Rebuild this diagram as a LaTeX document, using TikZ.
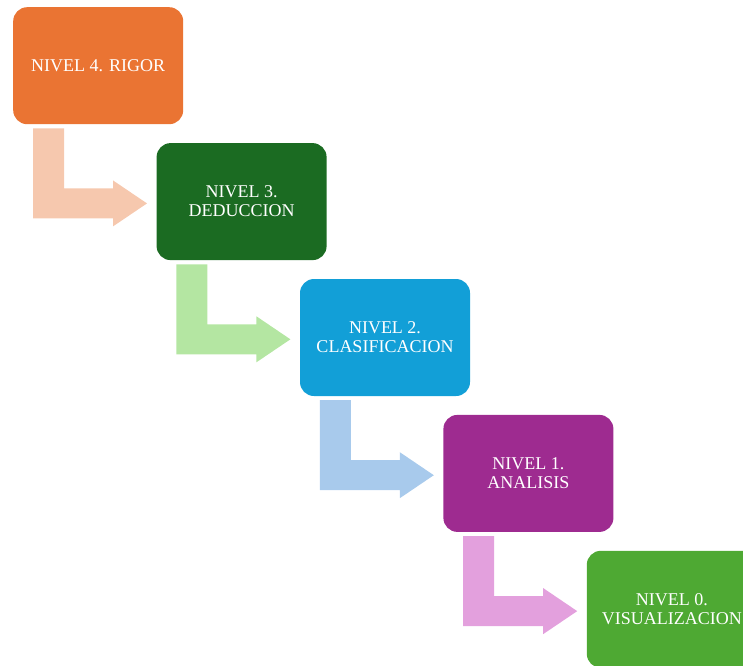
\documentclass[tikz,border=0pt]{standalone}
\usepackage{fontspec}
\setmainfont{Liberation Serif}
\usepackage{tikz}
\usetikzlibrary{positioning}

\definecolor{rigorC}{HTML}{EA7433}
\definecolor{deducC}{HTML}{1B6B22}
\definecolor{clasifC}{HTML}{129FD7}
\definecolor{analisC}{HTML}{9E2B90}
\definecolor{visualC}{HTML}{4EA933}
\definecolor{rigorL}{HTML}{F6C8AE}
\definecolor{deducL}{HTML}{B4E6A2}
\definecolor{clasifL}{HTML}{A8CAEC}
\definecolor{analisL}{HTML}{E3A0DD}

\begin{document}
\begin{tikzpicture}[
    x=1pt, y=1pt,
    node distance=18.5pt and -27pt,
    box/.style={rectangle,rounded corners=14pt,align=center,text=white,minimum width=170pt,minimum height=117pt,inner sep=0pt,font=\fontsize{18}{19}\selectfont},
    bent/.style={draw=none}
]
\clip (0,0) rectangle (743,-665);

\node[box, fill=rigorC, anchor=north west] (rigor) at (13,-7) {NIVEL 4. RIGOR};
\node[box, fill=deducC, below right=of rigor] (deduccion) {NIVEL 3.\\DEDUCCION};
\node[box, fill=clasifC, below right=of deduccion] (clasificacion) {NIVEL 2.\\CLASIFICACION};
\node[box, fill=analisC, below right=of clasificacion] (analisis) {NIVEL 1.\\ANALISIS};
\node[box, fill=visualC, below right=of analisis] (visualizacion) {NIVEL 0.\\VISUALIZACION};

% bent arrows between the levels
\fill[bent, rigorL] ([shift={(20,-4)}]rigor.south west) -- ++(31,0) -- ++(0,-60) -- ++(49,0) -- ++(0,8) -- ++(34,-23) -- ++(-34,-23) -- ++(0,8) -- ++(-80,0) -- cycle;
\fill[bent, deducL] ([shift={(20,-4)}]deduccion.south west) -- ++(31,0) -- ++(0,-60) -- ++(49,0) -- ++(0,8) -- ++(34,-23) -- ++(-34,-23) -- ++(0,8) -- ++(-80,0) -- cycle;
\fill[bent, clasifL] ([shift={(20,-4)}]clasificacion.south west) -- ++(31,0) -- ++(0,-60) -- ++(49,0) -- ++(0,8) -- ++(34,-23) -- ++(-34,-23) -- ++(0,8) -- ++(-80,0) -- cycle;
\fill[bent, analisL] ([shift={(20,-4)}]analisis.south west) -- ++(31,0) -- ++(0,-60) -- ++(49,0) -- ++(0,8) -- ++(34,-23) -- ++(-34,-23) -- ++(0,8) -- ++(-80,0) -- cycle;

\end{tikzpicture}
\end{document}
